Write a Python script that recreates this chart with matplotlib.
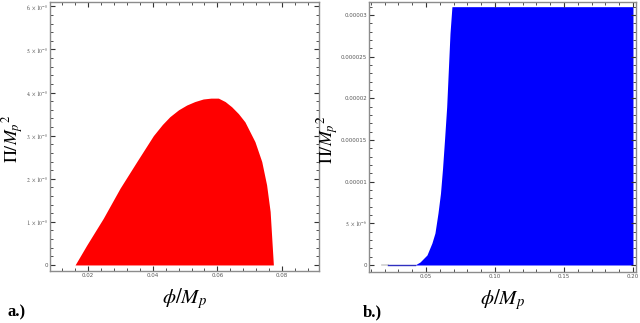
import matplotlib.pyplot as plt
from matplotlib.ticker import AutoMinorLocator

plt.rcParams['mathtext.fontset'] = 'stix'

# DATA
# panel a.) upper boundary of the red region
phi_a = [0.0160, 0.0196, 0.0247, 0.0299, 0.0351, 0.0402, 0.0430, 0.0453, 0.0480,
         0.0505, 0.0530, 0.0556, 0.0580, 0.0603, 0.0624, 0.0644, 0.0665, 0.0685,
         0.0716, 0.0737, 0.0752, 0.0763, 0.0768, 0.0773]
pi_a = [0.00e-8, 0.46e-8, 1.08e-8, 1.78e-8, 2.40e-8, 3.00e-8, 3.26e-8, 3.44e-8, 3.60e-8,
        3.71e-8, 3.79e-8, 3.85e-8, 3.87e-8, 3.87e-8, 3.79e-8, 3.67e-8, 3.51e-8, 3.32e-8,
        2.86e-8, 2.40e-8, 1.86e-8, 1.24e-8, 0.62e-8, 0.00e-8]

# panel b.) upper boundary of the blue region
phi_b = [0.0420, 0.0457, 0.0507, 0.0543, 0.0565, 0.0587, 0.0605, 0.0620, 0.0635,
         0.0650, 0.0662, 0.0674, 0.0688, 0.2000]
pi_b = [0.00e-6, 0.36e-6, 1.20e-6, 2.64e-6, 3.84e-6, 6.24e-6, 8.60e-6, 11.6e-6, 15.2e-6,
        19.0e-6, 23.4e-6, 27.8e-6, 31.0e-6, 31.0e-6]
tail_grey = [0.0180, 0.0225]
tail_blue = [0.0225, 0.0420]

xticks_a = [0.02, 0.04, 0.06, 0.08]
xlabels_a = ['0.02', '0.04', '0.06', '0.08']
yticks_a = [0, 1e-8, 2e-8, 3e-8, 4e-8, 5e-8, 6e-8]
ylabels_a = ['0'] + [r'$%d.\times10^{-8}$' % k for k in range(1, 7)]

xticks_b = [0.05, 0.10, 0.15, 0.20]
xlabels_b = ['0.05', '0.10', '0.15', '0.20']
yticks_b = [0, 5e-6, 1e-5, 1.5e-5, 2e-5, 2.5e-5, 3e-5]
ylabels_b = ['0', r'$5.\times10^{-6}$', '0.00001', '0.000015', '0.00002', '0.000025', '0.00003']

FRAME = '#8c8c8c'
TICKTXT = '#555555'
W, H = 640, 323

fig = plt.figure(figsize=(W / 100, H / 100), dpi=100, facecolor='white')
ax_a = fig.add_axes([50 / W, (H - 271) / H, (319 - 50) / W, (271 - 2) / H])
ax_b = fig.add_axes([369 / W, (H - 272) / H, (636 - 369) / W, (272 - 2) / H])


def style_axes(ax, xt, xl, yt, yl, ylab_x):
    for s in ax.spines.values():
        s.set_color(FRAME)
        s.set_linewidth(1.0)
    ax.set_xticks(xt)
    ax.set_xticklabels(xl)
    ax.set_yticks(yt)
    ax.set_yticklabels(yl)
    ax.xaxis.set_minor_locator(AutoMinorLocator(5))
    ax.yaxis.set_minor_locator(AutoMinorLocator(5))
    ax.tick_params(which='both', direction='in', top=True, right=True, color='#333333',
                   labelsize=4.0, labelcolor=TICKTXT, pad=1.5)
    ax.tick_params(which='major', length=3.5, width=0.8)
    ax.tick_params(which='minor', length=2, width=0.6)
    ax.set_xlabel(r'$\phi/M_p$', fontsize=15, labelpad=6)
    ax.set_ylabel(r'$\Pi/M_p{}^2$', fontsize=13)
    ax.yaxis.set_label_coords(ylab_x, 0.49)


ax_a.fill_between(phi_a, 0, pi_a, color='#ff0000', linewidth=0)
ax_a.set_xlim(0.00825, 0.0914)
ax_a.set_ylim(-0.14e-8, 6.1e-8)
style_axes(ax_a, xticks_a, xlabels_a, yticks_a, ylabels_a, (26 - 50) / 269)

ax_b.fill_between(phi_b, 0, pi_b, color='#0000ff', linewidth=0)
ax_b.plot(tail_grey, [0, 0], color='#d0d0d0', linewidth=1.2)
ax_b.plot(tail_blue, [0, 0], color='#3030c0', linewidth=1.0)
ax_b.set_xlim(0.0087, 0.2022)
ax_b.set_ylim(-0.84e-6, 3.156e-5)
style_axes(ax_b, xticks_b, xlabels_b, yticks_b, ylabels_b, (341 - 369) / 267)

fig.text(7 / W, 1 - 312 / H, 'a.)', fontsize=12, fontweight='bold',
         family='Liberation Serif', va='center', ha='left')
fig.text(363 / W, 1 - 312 / H, 'b.)', fontsize=12, fontweight='bold',
         family='Liberation Serif', va='center', ha='left')

fig.savefig('out.png', dpi=100)
